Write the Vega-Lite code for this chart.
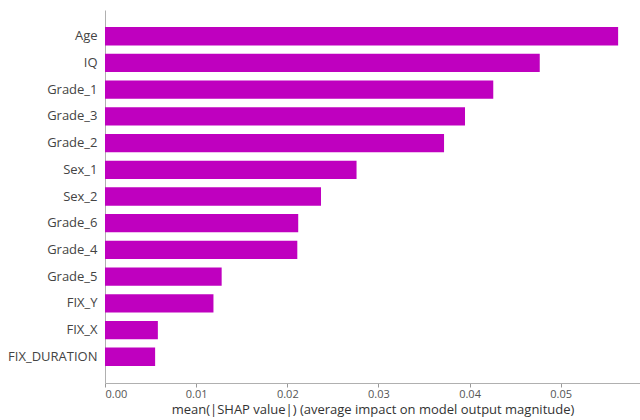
{
  "$schema": "https://vega.github.io/schema/vega-lite/v6.json",
  "autosize": {"type": "none"},
  "padding": {"left": 105, "top": 10, "right": 0, "bottom": 37},
  "width": 535,
  "height": 373,
  "background": "white",
  "data": {
    "values": [
      {"feature": "Age", "shap": 0.0563},
      {"feature": "IQ", "shap": 0.0477},
      {"feature": "Grade_1", "shap": 0.0426},
      {"feature": "Grade_3", "shap": 0.0395},
      {"feature": "Grade_2", "shap": 0.0372},
      {"feature": "Sex_1", "shap": 0.0276},
      {"feature": "Sex_2", "shap": 0.0237},
      {"feature": "Grade_6", "shap": 0.0212},
      {"feature": "Grade_4", "shap": 0.0211},
      {"feature": "Grade_5", "shap": 0.0128},
      {"feature": "FIX_Y", "shap": 0.0119},
      {"feature": "FIX_X", "shap": 0.0058},
      {"feature": "FIX_DURATION", "shap": 0.0055}
    ]
  },
  "mark": {"type": "bar", "color": "#bf00bf"},
  "encoding": {
    "y": {
      "field": "feature",
      "type": "nominal",
      "sort": null,
      "scale": {"paddingInner": 0.315, "paddingOuter": 0.64},
      "axis": {
        "title": null,
        "ticks": false,
        "labelPadding": 8,
        "labelFont": "Open Sans",
        "labelFontSize": 13,
        "labelColor": "#444444",
        "domainColor": "#b0b0b0",
        "domainWidth": 1
      }
    },
    "x": {
      "field": "shap",
      "type": "quantitative",
      "scale": {"domain": [0, 0.0587], "nice": false},
      "axis": {
        "title": "mean(|SHAP value|) (average impact on model output magnitude)",
        "values": [0, 0.01, 0.02, 0.03, 0.04, 0.05],
        "format": ".2f",
        "grid": false,
        "tickSize": 4,
        "tickColor": "#999999",
        "domainColor": "#b0b0b0",
        "labelFont": "Open Sans",
        "labelFontSize": 11,
        "labelColor": "#555555",
        "labelPadding": 1,
        "titleFont": "Open Sans",
        "titleFontSize": 13,
        "titleFontWeight": "normal",
        "titleColor": "#333333",
        "titleY": 20,
        "titleBaseline": "top"
      }
    }
  },
  "config": {"view": {"stroke": null}}
}
